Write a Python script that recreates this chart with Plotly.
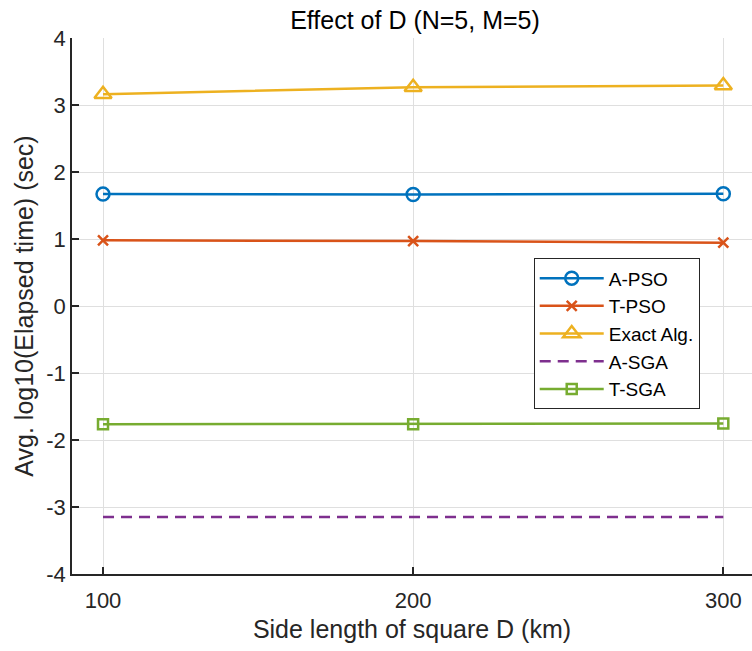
import plotly.graph_objects as go

D = [100, 200, 300]
a_pso = [1.67, 1.665, 1.675]
t_pso = [0.98, 0.97, 0.945]
exact = [3.16, 3.265, 3.29]
a_sga = [-3.15, -3.15, -3.15]
t_sga = [-1.765, -1.765, -1.755]

x_ticks = [100, 200, 300]
y_ticks = [-4, -3, -2, -1, 0, 1, 2, 3, 4]

FONT = "Liberation Sans, Arial, Helvetica, sans-serif"
LW = 2.5

fig = go.Figure()
fig.add_trace(go.Scatter(x=D, y=a_pso, name="A-PSO", mode="lines+markers",
                         line=dict(color="#0072BD", width=LW),
                         marker=dict(symbol="circle-open", size=13, line=dict(width=LW, color="#0072BD"))))
fig.add_trace(go.Scatter(x=D, y=t_pso, name="T-PSO", mode="lines+markers",
                         line=dict(color="#D95319", width=LW),
                         marker=dict(symbol="x-thin", size=10, line=dict(width=LW, color="#D95319"))))
fig.add_trace(go.Scatter(x=D, y=exact, name="Exact Alg.", mode="lines+markers",
                         line=dict(color="#EDB120", width=LW),
                         marker=dict(symbol="triangle-up-open", size=15, line=dict(width=LW, color="#EDB120"))))
fig.add_trace(go.Scatter(x=D, y=a_sga, name="A-SGA", mode="lines",
                         line=dict(color="#7E2F8E", width=LW, dash="11px,7px")))
fig.add_trace(go.Scatter(x=D, y=t_sga, name="T-SGA", mode="lines+markers",
                         line=dict(color="#77AC30", width=LW),
                         marker=dict(symbol="square-open", size=10, line=dict(width=LW, color="#77AC30"))))

fig.update_layout(
    width=752, height=651,
    margin=dict(l=72, r=0, t=38, b=77),
    paper_bgcolor="white", plot_bgcolor="white",
    font=dict(family=FONT, color="#262626"),
    title=dict(text="Effect of D (N=5, M=5)", x=415 / 752, xanchor="center",
               y=1 - 20 / 651, yanchor="middle", font=dict(size=25, color="#000000")),
    showlegend=True,
    legend=dict(x=0.679, y=0.589, xanchor="left", yanchor="top",
                bgcolor="white", bordercolor="#262626", borderwidth=1,
                font=dict(size=19, color="#000000"), tracegroupgap=0,
                itemwidth=64),
)
fig.update_xaxes(range=[90, 309.25], tickvals=x_ticks, ticktext=[str(v) for v in x_ticks],
                 showgrid=True, gridcolor="#dfdfdf", gridwidth=1,
                 showline=True, linecolor="#262626", linewidth=1.5,
                 ticks="inside", ticklen=7, tickcolor="#262626", tickwidth=1.5,
                 ticklabelstandoff=6,
                 tickfont=dict(size=22, color="#262626"), zeroline=False,
                 title=dict(text="Side length of square D (km)", font=dict(size=25, color="#262626"), standoff=8))
fig.update_yaxes(range=[-4, 4], tickvals=y_ticks, ticktext=[str(v) for v in y_ticks],
                 showgrid=True, gridcolor="#dfdfdf", gridwidth=1,
                 showline=True, linecolor="#262626", linewidth=1.5,
                 ticks="inside", ticklen=7, tickcolor="#262626", tickwidth=1.5,
                 tickfont=dict(size=22, color="#262626"), zeroline=False,
                 title=dict(text="Avg. log10(Elapsed time) (sec)", font=dict(size=25, color="#262626"), standoff=6))

fig.write_html("out.html")
